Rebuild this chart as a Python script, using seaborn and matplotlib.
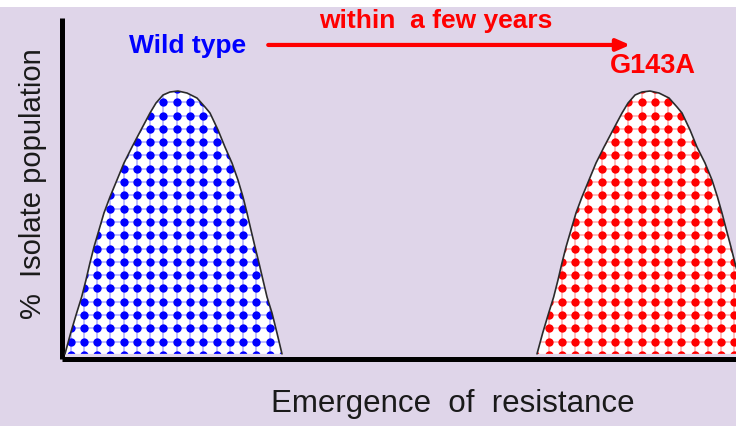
import numpy as np
import seaborn as sns
import matplotlib.pyplot as plt
from matplotlib.patches import Polygon, Rectangle

# curve outlines (x: emergence, y: % population)
wild_x = [0.45, 1.29, 2.18, 2.92, 3.56, 4.15, 4.75, 5.49, 6.23, 7.12, 8.16, 9.20, 10.39,
          11.72, 13.06, 13.95, 14.99, 16.02, 17.21, 18.55, 20.03, 21.22, 21.96, 23.15,
          24.18, 25.22, 26.11, 26.86, 27.45, 28.04, 28.64, 29.23, 29.82, 30.42, 31.16,
          31.90, 32.64]
mut_x = [70.48, 71.32, 72.21, 72.95, 73.59, 74.18, 74.78, 75.52, 76.26, 77.15, 78.19,
         79.23, 80.42, 81.75, 83.09, 83.98, 85.02, 86.05, 87.24, 88.58, 90.06, 91.25,
         91.99, 93.18, 94.21, 95.40, 96.44, 97.25, 97.92, 98.58, 99.25, 99.85, 100.52,
         101.11, 101.86, 102.60, 103.34]
pop_y = [1.5, 7.62, 13.49, 18.18, 23.17, 28.15, 32.85, 37.83, 42.82, 47.51, 52.49, 57.48,
         62.17, 67.16, 72.14, 75.07, 77.42, 78.30, 78.59, 78.00, 76.54, 73.90, 72.14,
         67.16, 62.17, 57.48, 52.49, 47.51, 42.82, 37.83, 32.85, 28.15, 23.17, 18.18,
         13.49, 7.62, 1.5]

labels = ["Wild type", "G143A"]
colors = ["#0000ff", "#ff0000"]
bg = "#dfd5e9"

sns.set_style("white")
plt.rcParams["font.family"] = ["Liberation Sans", "DejaVu Sans"]

fig = plt.figure(figsize=(7.36, 4.26), dpi=100, facecolor=bg)
fig.patches.append(Rectangle((0, 1 - 7 / 426), 1, 7 / 426, transform=fig.transFigure,
                             facecolor="white", edgecolor="none", zorder=0))
ax = fig.add_axes([0.0842, 0.1573, 0.9158, 0.8004])
ax.set_facecolor(bg)
ax.set_xlim(0, 100)
ax.set_ylim(0, 100)

# dot grid used for the halftone fill
gx = np.arange(-0.7, 106, 1.97)
gy = np.arange(1.2, 82, 3.9)
GX, GY = np.meshgrid(gx, gy)

for xs, col in zip([wild_x, mut_x], colors):
    pts = np.column_stack([xs, pop_y])
    poly = Polygon(pts, closed=True, facecolor="white", edgecolor="none", zorder=1)
    ax.add_patch(poly)
    # faint cross lines between dots
    for v in gx:
        ln, = ax.plot([v, v], [0, 100], color=col, alpha=0.28, lw=1.3, zorder=2)
        ln.set_clip_path(poly)
    for h in gy:
        ln, = ax.plot([0, 105], [h, h], color=col, alpha=0.28, lw=1.3, zorder=2)
        ln.set_clip_path(poly)
    sns.scatterplot(x=GX.ravel(), y=GY.ravel(), color=col, s=36, linewidth=0,
                    ax=ax, zorder=3, legend=False)
    ax.collections[-1].set_clip_path(poly)
    sns.lineplot(x=xs, y=pop_y, sort=False, estimator=None, color="#2b2b2b",
                 lw=1.2, ax=ax, zorder=4)

for s in ["top", "right"]:
    ax.spines[s].set_visible(False)
for s in ["left", "bottom"]:
    ax.spines[s].set_linewidth(3.6)
    ax.spines[s].set_color("black")
    ax.spines[s].set_capstyle("butt")
ax.set_xticks([])
ax.set_yticks([])

ax.text(18.7, 91.8, labels[0], color=colors[0], fontsize=19, fontweight="bold",
        ha="center", va="center")
ax.text(87.7, 86.0, labels[1], color=colors[1], fontsize=19.5, fontweight="bold",
        ha="center", va="center")
ax.text(55.5, 99.0, "within  a few years", color=colors[1], fontsize=19,
        fontweight="bold", ha="center", va="center", clip_on=False)
ax.annotate("", xy=(84.3, 92.1), xytext=(30.6, 92.1),
            arrowprops=dict(arrowstyle="-|>,head_length=0.8,head_width=0.35",
                            color=colors[1], lw=3, shrinkA=0, shrinkB=0))

fig.text(0.045, 0.57, "%  Isolate population", rotation=90, fontsize=21,
         ha="center", va="center", color="#1a1a1a")
fig.text(0.615, 0.052, "Emergence  of  resistance", fontsize=22.5, ha="center",
         va="center", color="#1a1a1a")

fig.savefig("out.png", dpi=100, facecolor=bg)
